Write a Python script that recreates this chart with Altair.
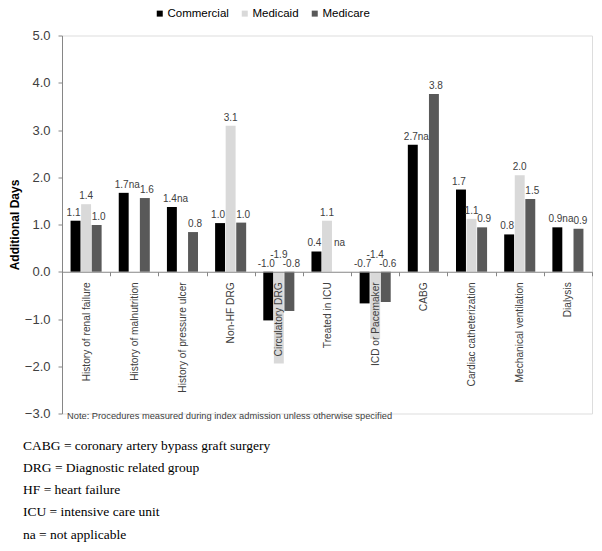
import altair as alt
import pandas as pd

categories = ["History of renal failure", "History of malnutrition", "History of pressure ulcer",
              "Non-HF DRG", "Circulatory DRG", "Treated in ICU", "ICD or Pacemaker", "CABG",
              "Cardiac catheterization", "Mechanical ventilation", "Dialysis"]
series = ["Commercial", "Medicaid", "Medicare"]
commercial = [1.08, 1.67, 1.37, 1.03, -1.03, 0.43, -0.67, 2.69, 1.74, 0.79, 0.94]
medicaid = [1.43, None, None, 3.09, -1.94, 1.08, -1.42, None, 1.12, 2.04, None]
medicare = [0.99, 1.56, 0.84, 1.04, -0.83, None, -0.64, 3.76, 0.94, 1.54, 0.91]
colors = ["#000000", "#d9d9d9", "#595959"]
y_ticks = [-3, -2, -1, 0, 1, 2, 3, 4, 5]
note = "Note: Procedures measured during index admission  unless otherwise specified"
footnotes = ["CABG = coronary artery bypass graft surgery",
             "DRG = Diagnostic related group",
             "HF = heart failure",
             "ICU = intensive care unit",
             "na = not applicable"]

rows = []
for s, vals in zip(series, [commercial, medicaid, medicare]):
    for c, v, cv in zip(categories, vals, commercial):
        if v is None:
            rows.append({"category": c, "series": s, "value": None, "label": "na", "label_y": cv, "neg": False})
        else:
            rows.append({"category": c, "series": s, "value": v, "label": f"{v:.1f}",
                         "label_y": max(v, 0.0), "neg": v < 0})
df = pd.DataFrame(rows)

W, H = 530, 378
FONT = "Liberation Sans"

x_enc = alt.X("category:N", sort=categories, title=None,
              scale=alt.Scale(paddingInner=0, paddingOuter=0),
              axis=alt.Axis(labelAngle=-90, offset=-H * 3 / 8, tickBand="extent", tickSize=4,
                            labelPadding=6, labelFontSize=10.2, labelColor="#404040", labelFont=FONT,
                            domainColor="#868686", tickColor="#868686", zindex=1, labelLimit=200))
xoff = alt.XOffset("series:N", sort=series, scale=alt.Scale(paddingInner=0.06, paddingOuter=0.81))

bars = alt.Chart(df).mark_bar().encode(
    x=x_enc,
    xOffset=xoff,
    y=alt.Y("value:Q", title="Additional Days",
            scale=alt.Scale(domain=[-3, 5], nice=False, zero=False),
            axis=alt.Axis(values=y_ticks, format=".1f", grid=False, tickSize=4, labelPadding=8,
                          labelFontSize=13, labelColor="#404040", labelFont=FONT,
                          domainColor="#868686", tickColor="#868686",
                          titleFont=FONT, titleFontSize=12, titleFontWeight="bold",
                          titleColor="#000000", titleX=-48, titleY=H / 2, titleAngle=270,
                          titleAlign="center", titleBaseline="middle")),
    color=alt.Color("series:N", sort=series, title=None,
                    scale=alt.Scale(domain=series, range=colors),
                    legend=alt.Legend(orient="none", legendX=92, legendY=-28, direction="horizontal",
                                      symbolType="square", symbolSize=36, symbolStrokeWidth=0,
                                      labelFontSize=11.5, labelFont=FONT, labelColor="#000000",
                                      labelOffset=2, columnPadding=10, padding=0)),
)

def label_layer(sel, dx, dy):
    return alt.Chart(df).transform_filter(sel).mark_text(
        baseline="bottom", dx=dx, dy=dy, fontSize=10, font=FONT, color="#404040"
    ).encode(
        x=alt.X("category:N", sort=categories),
        xOffset=alt.XOffset("series:N", sort=series),
        y=alt.Y("label_y:Q"),
        text="label:N",
    )

lab_c = label_layer(alt.datum.series == "Commercial", -2, -3)
lab_md = label_layer((alt.datum.series == "Medicaid") & (alt.datum.neg == False), 0, -3)
lab_mdn = label_layer((alt.datum.series == "Medicaid") & (alt.datum.neg == True), 0, -12)
lab_mc = label_layer(alt.datum.series == "Medicare", 2, -3)

note_t = alt.Chart(pd.DataFrame({"t": [note]})).mark_text(
    align="left", baseline="middle", fontSize=9.3, font=FONT, color="#404040"
).encode(x=alt.value(5), y=alt.value(380), text="t:N")

foot = alt.Chart(pd.DataFrame({"t": [0]})).mark_text(
    text=footnotes, align="left", baseline="top", lineHeight=22.3,
    font="Liberation Serif", fontSize=13.5, color="#000000"
).encode(x=alt.value(-39), y=alt.value(403))

chart = alt.layer(bars, lab_c, lab_md, lab_mdn, lab_mc, note_t, foot).resolve_scale(
    x="shared"
).properties(
    width=W, height=H,
    autosize=alt.AutoSizeParams(type="none"),
    padding={"left": 54, "top": 27.5, "right": 2, "bottom": 129.5},
).configure_view(stroke=None).configure(background="white")

chart.save("out.html", embed_options={"renderer": "svg", "actions": False})
